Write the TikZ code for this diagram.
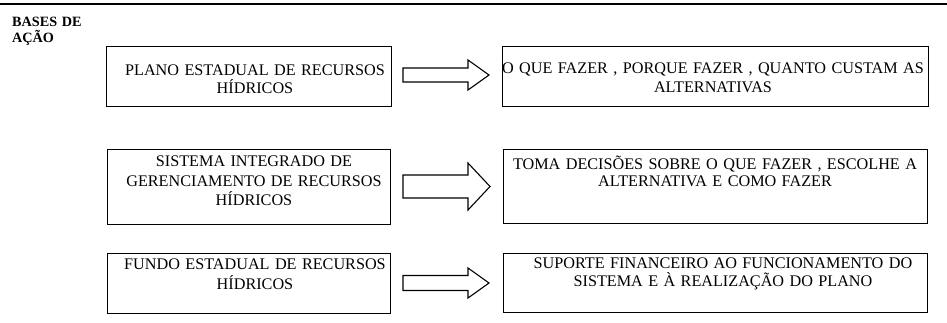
\documentclass[tikz,border=0pt]{standalone}
\usepackage{fontspec}
\setmainfont{Liberation Serif}
\begin{document}
\begin{tikzpicture}[x=1pt,y=-1pt,
  box/.style={draw, line width=1.3pt, rectangle, inner sep=0pt, anchor=north west},
  txt/.style={anchor=base, align=center, inner sep=0pt, text width=440pt, font=\fontsize{16.2}{18.5}\selectfont},
  blockarr/.style={draw, line width=1.1pt, line join=miter, fill=white}]
\useasboundingbox (0,0) rectangle (947,322);
\draw[line width=2.5pt] (0,4) -- (947,4);
\node[anchor=base west, align=left, inner sep=0pt, text width=100pt, font=\bfseries\fontsize{14.2}{16.7}\selectfont] (title) at (12,26) {BASES DE\\AÇÃO};
% boxes
\node[box, minimum width=285pt, minimum height=60pt] (b1) at (106,46) {};
\node[box, minimum width=426pt, minimum height=60pt] (b2) at (502,46) {};
\node[box, minimum width=283pt, minimum height=75pt] (b3) at (107,149) {};
\node[box, minimum width=424pt, minimum height=74pt] (b4) at (503,149) {};
\node[box, minimum width=283pt, minimum height=60pt] (b5) at (107,253) {};
\node[box, minimum width=424pt, minimum height=59pt] (b6) at (503,253) {};
% texts
\node[txt] (t1) at (255,75) {PLANO ESTADUAL DE RECURSOS\\HÍDRICOS};
\node[txt] (t2) at (713,73.5) {O QUE FAZER , PORQUE FAZER , QUANTO CUSTAM AS\\ALTERNATIVAS};
\node[txt, font=\fontsize{16.2}{19.5}\selectfont] (t3) at (254,166.5) {SISTEMA INTEGRADO DE\\GERENCIAMENTO DE RECURSOS\\HÍDRICOS};
\node[txt, font=\fontsize{16.2}{17.5}\selectfont] (t4) at (715,169) {TOMA DECISÕES SOBRE O QUE FAZER , ESCOLHE A\\ALTERNATIVA E COMO FAZER};
\node[txt, font=\fontsize{16.2}{20}\selectfont] (t5) at (255,269.5) {FUNDO ESTADUAL DE RECURSOS\\HÍDRICOS};
\node[txt, font=\fontsize{16.2}{17.7}\selectfont] (t6) at (723,268.3) {SUPORTE FINANCEIRO AO FUNCIONAMENTO DO\\SISTEMA E À REALIZAÇÃO DO PLANO};
% block arrows
\draw[blockarr] (403,68) -- (468,68) -- (468,60) -- (489,75) -- (468,90) -- (468,82) -- (403,82) -- cycle;
\draw[blockarr] (403,175) -- (468,175) -- (468,163) -- (490,186.5) -- (468,210) -- (468,198) -- (403,198) -- cycle;
\draw[blockarr] (403,275.5) -- (468,275.5) -- (468,268) -- (489,283) -- (468,298) -- (468,290.5) -- (403,290.5) -- cycle;
\end{tikzpicture}
\end{document}
